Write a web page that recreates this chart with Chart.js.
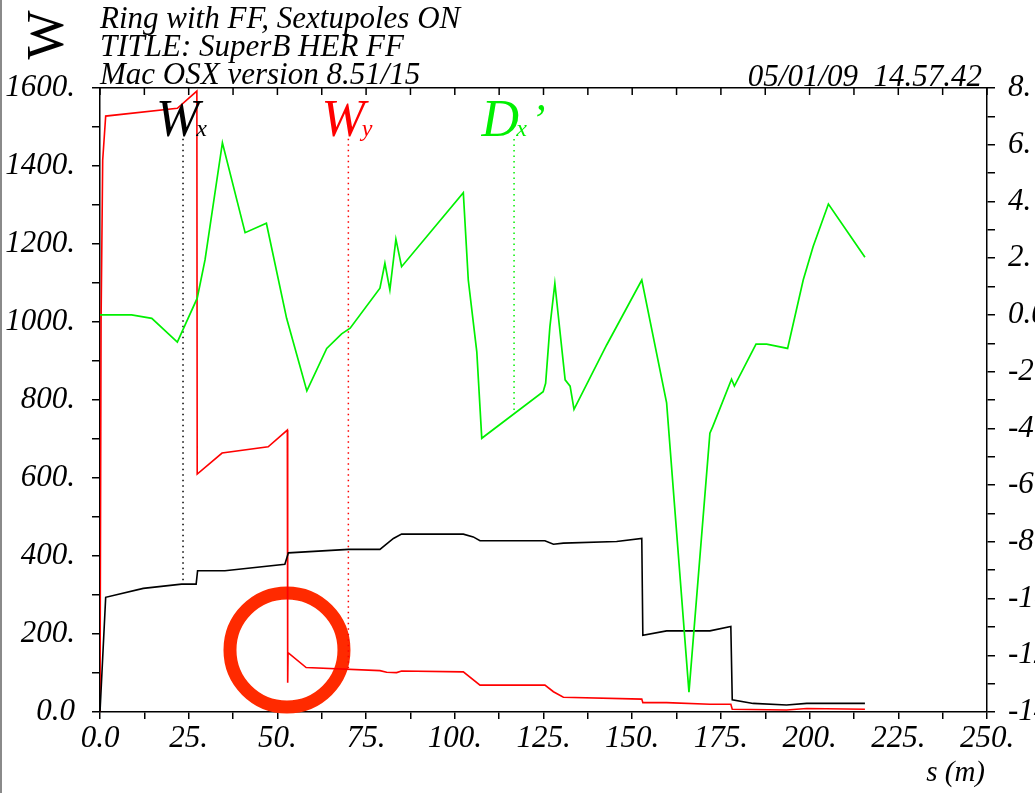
<!DOCTYPE html>
<html>
<head>
<meta charset="utf-8">
<script src="https://cdn.jsdelivr.net/npm/chart.js@4/dist/chart.umd.min.js"></script>
<style>
html, body { margin: 0; padding: 0; background: #fff; overflow: hidden; }
#wrap { position: absolute; left: 0; top: 0; width: 1070px; height: 793px; }
#edge { position: absolute; left: 0; top: 0; width: 2px; height: 793px; background: #8a8a8a; }
</style>
</head>
<body>
<div id="wrap"><canvas id="chart" width="1070" height="793"></canvas></div>
<div id="edge"></div>
<script>
// Header texts
const headerLines = ['Ring with FF, Sextupoles ON', 'TITLE: SuperB HER FF', 'Mac OSX version 8.51/15'];
const stamp = '05/01/09  14.57.42';

// W_x (black), s in m
const wxS = [0, 1.6, 12.2, 23.0, 27.1, 27.5, 35.2, 52.1, 53.1, 70.0, 78.9, 82.7, 85.0, 102.4, 105.2, 107.1, 125.4, 127.8, 130.6, 145.6, 152.7, 153.0, 159.7, 171.9, 177.8, 178.2, 184.1, 193.5, 199.2, 215.6];
const wxV = [0, 294, 317, 328, 328, 362, 362, 379, 408, 417, 417, 445, 456, 456, 449, 439, 439, 430, 433, 437, 445, 197, 208, 208, 219, 31, 22, 18, 22, 22];

// W_y (red)
const wyS = [0, 0.3, 0.76, 1.6, 21.8, 27.3, 27.4, 34.4, 47.4, 52.8, 52.9, 53.0, 58.1, 78.9, 80.8, 83.6, 85.0, 102.4, 107.1, 125.4, 127.8, 130.6, 152.7, 153.0, 159.7, 171.9, 177.8, 178.2, 193.5, 199.2, 215.6];
const wyV = [0, 1000, 1415, 1528, 1548, 1592, 610, 664, 680, 723, 75, 152, 114, 106, 102, 101, 105, 103, 69, 69, 52, 38, 33, 24, 24, 20, 20, 7, 5, 9, 7];

// D_x' (green, right axis)
const dxS = [0, 8.9, 14.6, 21.8, 27.4, 29.6, 34.5, 40.9, 46.9, 52.6, 58.3, 63.9, 68.1, 70.5, 78.9, 80.3, 81.7, 83.4, 85.0, 102.4, 103.8, 106.2, 107.6, 124.9, 125.6, 126.8, 128.2, 131.1, 132.5, 133.6, 142.8, 152.7, 159.7, 166.0, 171.9, 172.7, 178.0, 178.8, 184.9, 187.9, 193.8, 198.2, 201.0, 205.3, 215.6];
const dxV = [0.0, 0.0, -0.12, -0.96, 0.59, 1.94, 6.07, 2.90, 3.23, -0.12, -2.68, -1.18, -0.67, -0.47, 0.94, 1.82, 0.88, 2.67, 1.70, 4.31, 1.23, -1.30, -4.35, -2.71, -2.41, -0.42, 1.11, -2.29, -2.51, -3.33, -1.06, 1.23, -3.1, -13.3, -4.17, -3.94, -2.27, -2.51, -1.03, -1.03, -1.18, 1.23, 2.41, 3.91, 2.03];

// curve labels with their dotted markers
const markMain = ['W', 'W', 'D'];
const markSub = ['x', 'y', 'x'];
const markColor = ['#000000', '#ff0000', '#00f000'];
const markS = [23.4, 70.0, 116.7];
const markTopW = 1470;
const markTopD = 6.2;
const markBottom = [333, 108, -3.35];

// red ring highlight
const ringS = [52.7];
const ringW = [159];

const serif = "'Liberation Serif', 'Times New Roman', serif";
const tickFont = { family: serif, style: 'italic', size: 31 };

function fmt(v) {
    return v === 0 ? '0.0' : v + '.';
}

function pts(xs, ys) {
    return xs.map((x, i) => ({ x: x, y: ys[i] }));
}

const markerSets = markS.map((s, i) => ({
    data: [{ x: s, y: i === 2 ? markTopD : markTopW }, { x: s, y: markBottom[i] }],
    yAxisID: i === 2 ? 'yR' : 'yL',
    borderColor: markColor[i],
    borderWidth: 1.5,
    borderDash: [1.5, 4],
    pointRadius: 0,
    fill: false
}));

const textPlugin = {
    id: 'texts',
    afterDraw(chart) {
        const ctx = chart.ctx;
        const xs = chart.scales.x;
        const yl = chart.scales.yL;
        const ca = chart.chartArea;
        ctx.save();

        // inward ticks on the top edge
        ctx.strokeStyle = '#000';
        ctx.lineWidth = 1.5;
        xs.ticks.forEach(t => {
            const px = xs.getPixelForValue(t.value);
            ctx.beginPath();
            ctx.moveTo(px, ca.top);
            ctx.lineTo(px, ca.top + 7);
            ctx.stroke();
        });

        ctx.fillStyle = '#000';
        ctx.textBaseline = 'alphabetic';
        ctx.font = 'italic 31px ' + serif;
        ctx.textAlign = 'left';
        headerLines.forEach((t, i) => ctx.fillText(t, 100, 28 + i * 28));
        ctx.textAlign = 'right';
        ctx.fillText(stamp, 982, 86);

        // rotated axis name
        ctx.save();
        ctx.translate(63, 35);
        ctx.rotate(-Math.PI / 2);
        ctx.textAlign = 'center';
        ctx.font = '52px ' + serif;
        ctx.fillText('W', 0, 0);
        ctx.restore();

        ctx.textAlign = 'right';
        ctx.font = 'italic 29px ' + serif;
        ctx.fillText('s (m)', 985, 781);

        // curve labels
        ctx.textAlign = 'left';
        markS.forEach((s, i) => {
            const px = xs.getPixelForValue(s);
            const base = yl.getPixelForValue(markTopW) - 3;
            ctx.fillStyle = markColor[i];
            ctx.font = 'italic 52px ' + serif;
            const wm = ctx.measureText(markMain[i]).width;
            ctx.font = 'italic 24px ' + serif;
            const ws = ctx.measureText(markSub[i]).width;
            let wp = 0;
            if (i === 2) {
                ctx.font = 'italic 44px ' + serif;
                wp = ctx.measureText('\u2019').width + 2;
            }
            const x0 = px - (wm + ws + wp) / 2;
            ctx.font = 'italic 52px ' + serif;
            ctx.fillText(markMain[i], x0, base);
            ctx.font = 'italic 24px ' + serif;
            ctx.fillText(markSub[i], x0 + wm - 3, base);
            if (i === 2) {
                ctx.font = 'italic 44px ' + serif;
                ctx.fillText('\u2019', x0 + wm + ws + 1, base - 2);
            }
        });
        ctx.restore();
    }
};

const ctx = document.getElementById('chart').getContext('2d');
new Chart(ctx, {
    type: 'line',
    data: {
        datasets: [
            {
                data: pts(dxS, dxV), yAxisID: 'yR',
                borderColor: '#00f000', borderWidth: 1.7, pointRadius: 0, fill: false
            },
            {
                data: pts(wxS, wxV), yAxisID: 'yL',
                borderColor: '#000000', borderWidth: 1.6, pointRadius: 0, fill: false
            },
            {
                data: pts(wyS, wyV), yAxisID: 'yL',
                borderColor: '#ff0000', borderWidth: 1.6, pointRadius: 0, fill: false
            },
            ...markerSets,
            {
                data: pts(ringS, ringW), yAxisID: 'yL',
                showLine: false, pointRadius: 57, pointBorderWidth: 13,
                pointBorderColor: '#ff2a00', pointBackgroundColor: 'rgba(0,0,0,0)',
                clip: false
            }
        ]
    },
    options: {
        responsive: false,
        animation: false,
        events: [],
        layout: { padding: { top: 88, left: 0, right: 0, bottom: 0 } },
        elements: { line: { tension: 0 } },
        plugins: { legend: { display: false }, tooltip: { enabled: false } },
        scales: {
            x: {
                type: 'linear', position: 'bottom', min: 0, max: 250,
                afterFit: s => { s.height = 81; },
                border: { color: '#000', width: 1.5 },
                grid: { drawOnChartArea: false, tickLength: 7, color: '#000', lineWidth: 1.5 },
                ticks: {
                    stepSize: 12.5, autoSkip: false, maxRotation: 0, padding: 1,
                    color: '#000', font: tickFont,
                    callback: v => (v % 25 === 0 ? fmt(v) : '')
                }
            },
            xTop: {
                type: 'linear', position: 'top', min: 0, max: 250,
                afterFit: s => { s.height = 0; },
                border: { color: '#000', width: 1.5 },
                grid: { display: false },
                ticks: { display: false }
            },
            yL: {
                type: 'linear', position: 'left', min: 0, max: 1600,
                afterFit: s => { s.width = 100; },
                border: { color: '#000', width: 1.5 },
                grid: { drawOnChartArea: false, tickLength: 8, color: '#000', lineWidth: 1.5 },
                ticks: {
                    stepSize: 100, autoSkip: false, padding: 17,
                    color: '#000', font: tickFont,
                    callback: v => (v % 200 === 0 ? fmt(v) : '')
                }
            },
            yR: {
                type: 'linear', position: 'right', min: -14, max: 8,
                afterFit: s => { s.width = 83; },
                border: { color: '#000', width: 1.5 },
                grid: { drawOnChartArea: false, tickLength: 8, color: '#000', lineWidth: 1.5 },
                ticks: {
                    stepSize: 1, autoSkip: false, padding: 13,
                    color: '#000', font: tickFont,
                    callback: v => (v % 2 === 0 ? fmt(v) : '')
                }
            }
        }
    },
    plugins: [textPlugin]
});
</script>
</body>
</html>
